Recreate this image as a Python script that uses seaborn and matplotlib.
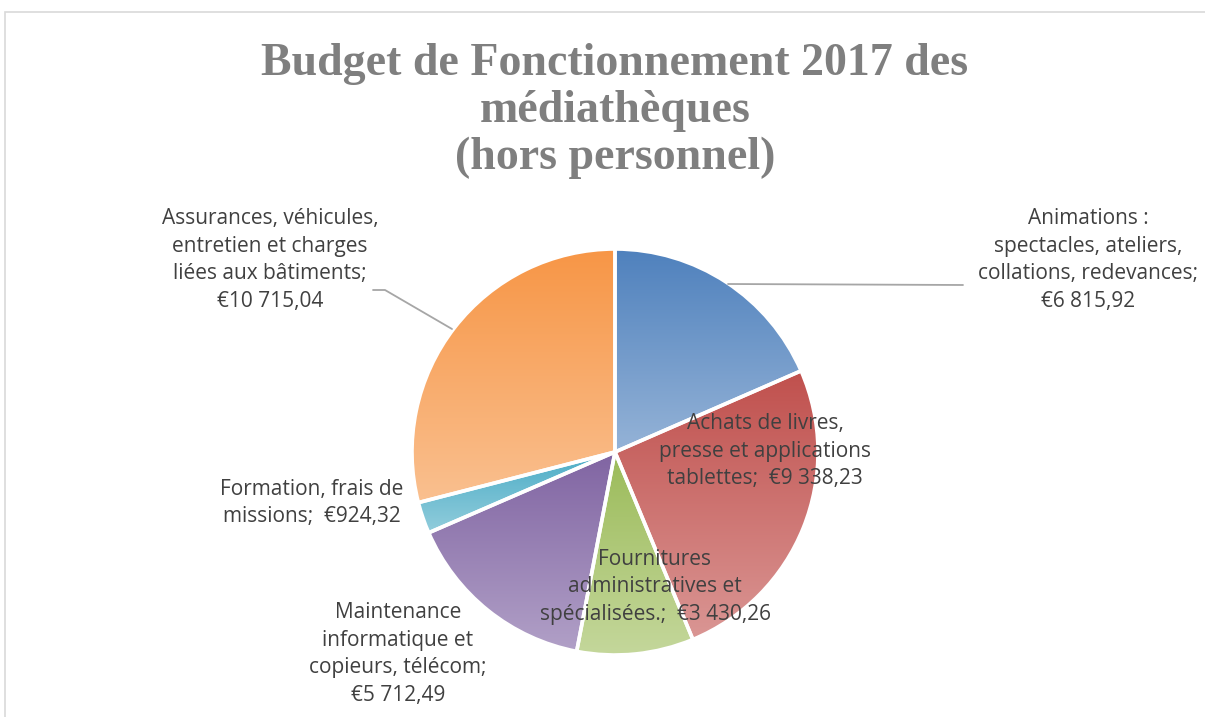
import numpy as np
import matplotlib
matplotlib.use("Agg")
import matplotlib.pyplot as plt
import seaborn as sns
from matplotlib.patches import Rectangle

# --------------------------------------------------------------
# Data
# --------------------------------------------------------------
categories = [
    "Animations :\nspectacles, ateliers,\ncollations, redevances;",
    "Achats de livres,\npresse et applications\ntablettes;",
    "Fournitures\nadministratives et\nspécialisées.;",
    "Maintenance\ninformatique et\ncopieurs, télécom;",
    "Formation, frais de\nmissions;",
    "Assurances, véhicules,\nentretien et charges\nliées aux bâtiments;",
]
values = [6815.92, 9338.23, 3430.26, 5712.49, 924.32, 10715.04]
value_labels = ["€6 815,92", "€9 338,23", "€3 430,26", "€5 712,49", "€924,32", "€10 715,04"]
top_colors = ["#4F81BD", "#C0504D", "#9BBB59", "#8064A2", "#4BACC6", "#F79646"]
bottom_colors = ["#95B3D7", "#DA9694", "#C4D79B", "#B1A0C7", "#92CDDC", "#FAC090"]

# --------------------------------------------------------------
# Figure (axes in pixel coordinates, y measured from bottom)
# --------------------------------------------------------------
sns.set_theme(style="white")
plt.rcParams["font.family"] = ["Open Sans", "DejaVu Sans"]

W, H = 1205, 717
fig = plt.figure(figsize=(W / 100, H / 100), dpi=100)
ax = fig.add_axes([0, 0, 1, 1])

# chart border
fig.patches.append(Rectangle((5 / W, -0.1), 1.2, (H - 12) / H + 0.1,
                             transform=fig.transFigure, fill=False,
                             edgecolor="#D9D9D9", linewidth=1.2))

cx, cy, r = 615, H - 452, 203
wedges, _ = ax.pie(values, startangle=90, counterclock=False, center=(cx, cy),
                   radius=r, frame=True,
                   wedgeprops=dict(facecolor="none", edgecolor="white", linewidth=2.6))
ax.set_xlim(0, W)
ax.set_ylim(0, H)
ax.axis("off")

# vertical gradient fill per wedge
for w, c0, c1 in zip(wedges, top_colors, bottom_colors):
    ext = w.get_path().get_extents()
    grad = np.array(sns.blend_palette([c0, c1], 256)).reshape(256, 1, 3)
    im = ax.imshow(grad, extent=[ext.x0, ext.x1, ext.y0, ext.y1], origin="upper",
                   aspect="auto", zorder=1, interpolation="bilinear")
    im.set_clip_path(w)
    w.set_zorder(2)

# --------------------------------------------------------------
# Labels
# --------------------------------------------------------------
label_pos = [(1088, 260), (765, 451), (655, 587), (398, 654), (312, 503), (270, 260)]
for cat, val, (x, y) in zip(categories, value_labels, label_pos):
    if cat.startswith("Achats") or cat.startswith("Fournitures") or cat.startswith("Formation"):
        txt = cat + "  " + val
    else:
        txt = cat + "\n" + val
    ax.text(x, H - y, txt, ha="center", va="center", fontsize=15,
            color="#404040", linespacing=1.4, zorder=5)

# leader lines
ax.plot([728, 963], [H - 284, H - 285], color="#A6A6A6", linewidth=1.3, zorder=3)
ax.plot([452, 385, 373], [H - 329, H - 290, H - 290], color="#A6A6A6", linewidth=1.3, zorder=3)

# title
ax.text(615, H - 111, "Budget de Fonctionnement 2017 des\nmédiathèques\n(hors personnel)",
        ha="center", va="center", fontsize=33, fontweight="bold",
        family="Liberation Serif", color="#7F7F7F", linespacing=1.16)

fig.savefig("out.png", dpi=100)
